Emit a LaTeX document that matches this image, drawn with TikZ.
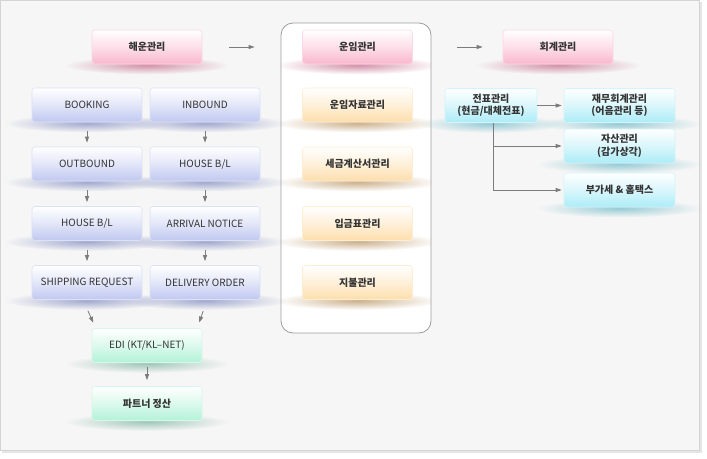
\documentclass[tikz,border=0pt]{standalone}
\usepackage{fontspec}
\setmainfont{Noto Sans CJK KR}
\usetikzlibrary{arrows.meta,fadings}
\definecolor{bgfill}{HTML}{F6F6F6}
\definecolor{frameline}{HTML}{D4D4D4}
\definecolor{txt}{HTML}{333333}
\definecolor{arrowgray}{HTML}{7C7C7C}
\definecolor{pinkbox}{HTML}{F9B8CD}
\definecolor{bluebox}{HTML}{C0C8F0}
\definecolor{greenbox}{HTML}{B2F2D8}
\definecolor{orangebox}{HTML}{FDDEAC}
\definecolor{cyanbox}{HTML}{ACECF7}
\definecolor{pinkglow}{HTML}{D493AA}
\definecolor{blueglow}{HTML}{A3AAD0}
\definecolor{greenglow}{HTML}{A2C8BA}
\definecolor{orangeglow}{HTML}{CDB28E}
\definecolor{cyanglow}{HTML}{98CCD6}
\pgfdeclarelayer{bg}\pgfdeclarelayer{glow}
\pgfsetlayers{bg,glow,main}
\tikzfading[name=glowfade, inner color=transparent!0, outer color=transparent!100]
\tikzset{
  tab/.style={rounded corners=3pt, minimum width=110pt, minimum height=34pt,
    inner sep=0pt, text=txt, top color=white, bottom color=#1,
    middle color=#1!45!white, draw=#1!55!white, line width=0.6pt,
    font=\fontsize{10}{12.5}\selectfont, align=center},
  ktab/.style={tab=#1, font=\fontsize{10}{12.5}\selectfont\bfseries},
  arr/.style={draw=arrowgray, line width=0.8pt, ->},
  panelbox/.style={draw=black!38, fill=white, rounded corners=12pt, line width=0.8pt,
    minimum width=150pt, minimum height=310pt, inner sep=0pt},
}
\newcommand{\glow}[3]{\fill[#2, path fading=glowfade] ([yshift=-1pt]#1.south) ellipse [x radius=#3, y radius=9pt];}
\begin{document}
\begin{tikzpicture}[x=1pt,y=-1pt,>={Triangle[length=6pt,width=4pt]}]
  \useasboundingbox (0,0) rectangle (707,458);
  \begin{pgfonlayer}{bg}
    \fill[white] (0,0) rectangle (707,458);
    \fill[black!10] (2,2) rectangle (701.5,452.5);
    \draw[frameline, fill=bgfill] (0.5,0.5) rectangle (699,450);
    \node[panelbox] at (356,178) (panel) {};
  \end{pgfonlayer}

  % left column
  \node[ktab=pinkbox] at (147,47) (haeun) {해운관리};
  \node[tab=bluebox] at (87,105) (a1) {BOOKING};
  \node[tab=bluebox] at (87,164) (a2) {OUTBOUND};
  \node[tab=bluebox] at (87,223.5) (a3) {HOUSE B/L};
  \node[tab=bluebox] at (87,282.5) (a4) {SHIPPING REQUEST};
  \node[tab=bluebox] at (205,105) (b1) {INBOUND};
  \node[tab=bluebox] at (205,164) (b2) {HOUSE B/L};
  \node[tab=bluebox] at (205,223.5) (b3) {ARRIVAL NOTICE};
  \node[tab=bluebox] at (205,282.5) (b4) {DELIVERY ORDER};
  \node[tab=greenbox] at (147,345.5) (edi) {EDI (KT/KL–NET)};
  \node[ktab=greenbox] at (147,403.5) (partner) {파트너 정산};

  % middle column
  \node[ktab=pinkbox] at (357.5,47) (unim) {운임관리};
  \node[ktab=orangebox] at (357.5,105) (m1) {운임자료관리};
  \node[ktab=orangebox] at (357.5,164) (m2) {세금계산서관리};
  \node[ktab=orangebox] at (357.5,223.5) (m3) {입금표관리};
  \node[ktab=orangebox] at (357.5,282.5) (m4) {지불관리};

  % right column
  \node[ktab=pinkbox] at (558,47) (hoegye) {회계관리};
  \node[ktab=cyanbox, minimum width=92pt] at (491,105.5) (jeonpyo) {전표관리\\(현금/대체전표)};
  \node[ktab=cyanbox, minimum width=111pt] at (619.5,105.5) (jaemu) {재무회계관리\\(어음관리 등)};
  \node[ktab=cyanbox, minimum width=111pt] at (619.5,146) (jasan) {자산관리\\(감가상각)};
  \node[ktab=cyanbox, minimum width=111pt] at (619.5,190) (vat) {부가세 \& 홈택스};

  \begin{pgfonlayer}{glow}
    \glow{haeun}{pinkglow}{82pt}
    \glow{hoegye}{pinkglow}{82pt}
    \foreach \n in {a1,a2,a3,a4,b1,b2,b3,b4}{
      \glow{\n}{blueglow}{82pt}}
    \glow{edi}{greenglow}{82pt}
    \glow{partner}{greenglow}{82pt}
    \glow{jeonpyo}{cyanglow}{72pt}
    \foreach \n in {jaemu,jasan,vat}{
      \glow{\n}{cyanglow}{82pt}}
    \begin{scope}
      \clip[rounded corners=12pt] (panel.south west) rectangle (panel.north east);
      \glow{unim}{pinkglow}{82pt}
      \foreach \n in {m1,m2,m3,m4}{
        \glow{\n}{orangeglow}{82pt}}
    \end{scope}
  \end{pgfonlayer}

  \draw[arr, shorten <=27pt, shorten >=26pt] (haeun.east) -- (haeun.east -| panel.west);
  \draw[arr, shorten <=26pt, shorten >=20pt] (unim.east -| panel.east) -- (hoegye.west);
  \foreach \s/\t in {a1/a2,a2/a3,a3/a4,b1/b2,b2/b3,b3/b4}
    \draw[arr, shorten <=9pt, shorten >=4pt] (\s) -- (\t);
  \draw[arr, shorten <=12pt, shorten >=6pt] ([xshift=-4pt]a4.south) -- ([xshift=4pt]edi.north west);
  \draw[arr, shorten <=12pt, shorten >=6pt] ([xshift=2pt]b4.south) -- ([xshift=-5pt]edi.north east);
  \draw[arr, shorten <=4pt, shorten >=6pt] (edi) -- (partner);
  %\draw[arr] (jeonpyo.east) -- (jaemu.west);
  \draw[arr, shorten >=2pt] (jeonpyo) -- (jaemu);
  \draw[arr, shorten >=2pt] ([xshift=2pt]jeonpyo.south) |- (jasan.west);
  \draw[arr, shorten >=2pt] ([xshift=2pt]jeonpyo.south) |- (vat.west);
\end{tikzpicture}
\end{document}
